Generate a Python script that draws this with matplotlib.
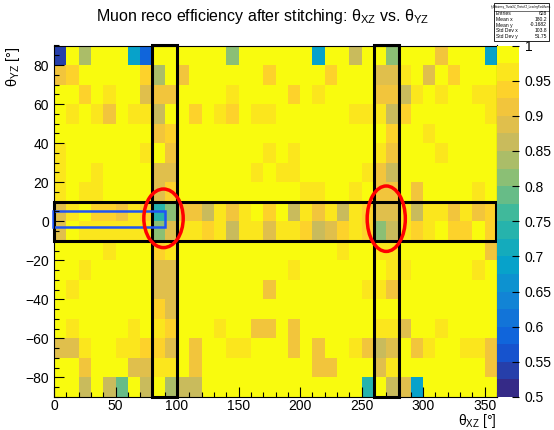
import numpy as np
import matplotlib
matplotlib.use("Agg")
import matplotlib.pyplot as plt
from matplotlib.colors import LinearSegmentedColormap, ListedColormap, BoundaryNorm
from matplotlib.patches import Rectangle, Ellipse
from matplotlib.ticker import MultipleLocator, FuncFormatter

plt.rcParams['font.family'] = ['Liberation Sans', 'DejaVu Sans']
plt.rcParams['mathtext.fontset'] = 'custom'
plt.rcParams['mathtext.rm'] = 'Liberation Sans'
plt.rcParams['mathtext.it'] = 'Liberation Sans:italic'

# 10 degree bins in both angles
theta_xz_edges = np.arange(0, 361, 10)
theta_yz_edges = np.arange(-90, 91, 10)

# efficiency per bin, first row is theta_YZ 80..90, last row is -90..-80
eff = [
    [0.535, 0.99, 0.835, 0.99, 0.99, 0.99, 0.685, 0.585, 0.99, 0.99, 0.99, 0.99, 0.99, 0.99, 0.81, 0.99, 0.99, 0.99, 0.99, 0.99, 0.99, 0.685, 0.99, 0.99, 0.86, 0.99, 0.99, 0.81, 0.99, 0.99, 0.99, 0.91, 0.99, 0.99, 0.99, 0.685],
    [0.91, 0.935, 0.99, 0.99, 0.99, 0.99, 0.99, 0.935, 0.835, 0.99, 0.91, 0.99, 0.99, 0.99, 0.99, 0.99, 0.99, 0.935, 0.99, 0.99, 0.99, 0.99, 0.935, 0.99, 0.99, 0.99, 0.885, 0.885, 0.96, 0.99, 0.885, 0.99, 0.935, 0.99, 0.99, 0.99],
    [0.99, 0.99, 0.935, 0.99, 0.96, 0.99, 0.99, 0.885, 0.91, 0.91, 0.99, 0.99, 0.99, 0.99, 0.96, 0.99, 0.99, 0.99, 0.99, 0.935, 0.99, 0.96, 0.99, 0.99, 0.99, 0.99, 0.91, 0.91, 0.86, 0.96, 0.99, 0.96, 0.99, 0.99, 0.96, 0.96],
    [0.99, 0.96, 0.99, 0.96, 0.91, 0.99, 0.96, 0.96, 0.86, 0.99, 0.99, 0.935, 0.99, 0.96, 0.935, 0.99, 0.96, 0.96, 0.99, 0.99, 0.99, 0.99, 0.99, 0.99, 0.96, 0.96, 0.96, 0.86, 0.935, 0.99, 0.99, 0.99, 0.99, 0.99, 0.99, 0.96],
    [0.99, 0.99, 0.99, 0.99, 0.99, 0.99, 0.99, 0.99, 0.91, 0.935, 0.99, 0.99, 0.99, 0.99, 0.99, 0.99, 0.99, 0.99, 0.99, 0.99, 0.99, 0.99, 0.99, 0.99, 0.99, 0.99, 0.99, 0.935, 0.99, 0.99, 0.96, 0.99, 0.99, 0.99, 0.99, 0.99],
    [0.96, 0.99, 0.99, 0.99, 0.99, 0.99, 0.99, 0.96, 0.99, 0.91, 0.99, 0.99, 0.99, 0.99, 0.99, 0.99, 0.99, 0.96, 0.99, 0.96, 0.99, 0.99, 0.99, 0.99, 0.99, 0.99, 0.96, 0.91, 0.99, 0.99, 0.99, 0.96, 0.99, 0.99, 0.99, 0.99],
    [0.96, 0.99, 0.99, 0.96, 0.99, 0.99, 0.99, 0.99, 0.885, 0.885, 0.99, 0.99, 0.99, 0.99, 0.99, 0.99, 0.96, 0.99, 0.96, 0.96, 0.99, 0.99, 0.99, 0.99, 0.99, 0.96, 0.91, 0.86, 0.99, 0.99, 0.99, 0.99, 0.99, 0.99, 0.99, 0.99],
    [0.96, 0.99, 0.96, 0.96, 0.99, 0.99, 0.99, 0.99, 0.885, 0.935, 0.99, 0.99, 0.99, 0.99, 0.99, 0.99, 0.99, 0.99, 0.99, 0.99, 0.96, 0.96, 0.99, 0.99, 0.96, 0.99, 0.91, 0.91, 0.99, 0.91, 0.99, 0.99, 0.99, 0.99, 0.96, 0.99],
    [0.885, 0.96, 0.99, 0.935, 0.935, 0.91, 0.96, 0.935, 0.74, 0.81, 0.91, 0.91, 0.86, 0.96, 0.91, 0.96, 0.99, 0.935, 0.99, 0.86, 0.96, 0.91, 0.96, 0.86, 0.96, 0.935, 0.885, 0.885, 0.96, 0.86, 0.96, 0.96, 0.91, 0.96, 0.91, 0.935],
    [0.885, 0.99, 0.96, 0.96, 0.96, 0.96, 0.96, 0.96, 0.81, 0.885, 0.96, 0.96, 0.935, 0.96, 0.86, 0.96, 0.96, 0.885, 0.96, 0.96, 0.935, 0.86, 0.885, 0.935, 0.96, 0.935, 0.82, 0.86, 0.96, 0.935, 0.96, 0.99, 0.935, 0.935, 0.99, 0.935],
    [0.99, 0.99, 0.99, 0.99, 0.96, 0.99, 0.99, 0.99, 0.935, 0.96, 0.99, 0.99, 0.99, 0.99, 0.99, 0.99, 0.99, 0.99, 0.99, 0.99, 0.99, 0.99, 0.99, 0.96, 0.99, 0.99, 0.96, 0.96, 0.99, 0.99, 0.99, 0.99, 0.99, 0.99, 0.99, 0.91],
    [0.99, 0.99, 0.96, 0.99, 0.99, 0.99, 0.99, 0.99, 0.885, 0.885, 0.99, 0.99, 0.99, 0.99, 0.99, 0.99, 0.99, 0.99, 0.99, 0.96, 0.99, 0.99, 0.99, 0.99, 0.99, 0.99, 0.99, 0.96, 0.96, 0.99, 0.99, 0.99, 0.99, 0.99, 0.96, 0.99],
    [0.99, 0.96, 0.99, 0.99, 0.99, 0.99, 0.99, 0.99, 0.885, 0.885, 0.99, 0.99, 0.99, 0.99, 0.99, 0.99, 0.99, 0.91, 0.99, 0.99, 0.99, 0.99, 0.99, 0.99, 0.99, 0.96, 0.96, 0.91, 0.99, 0.99, 0.99, 0.99, 0.99, 0.99, 0.99, 0.99],
    [0.99, 0.99, 0.99, 0.99, 0.99, 0.99, 0.99, 0.99, 0.935, 0.885, 0.99, 0.99, 0.99, 0.99, 0.99, 0.99, 0.99, 0.99, 0.99, 0.99, 0.99, 0.99, 0.99, 0.99, 0.99, 0.99, 0.99, 0.99, 0.99, 0.99, 0.99, 0.99, 0.99, 0.99, 0.99, 0.99],
    [0.99, 0.96, 0.99, 0.99, 0.99, 0.99, 0.96, 0.99, 0.96, 0.935, 0.99, 0.99, 0.99, 0.96, 0.99, 0.99, 0.91, 0.91, 0.99, 0.91, 0.99, 0.99, 0.99, 0.99, 0.99, 0.99, 0.96, 0.96, 0.885, 0.99, 0.99, 0.96, 0.99, 0.99, 0.99, 0.99],
    [0.885, 0.885, 0.96, 0.99, 0.99, 0.96, 0.96, 0.935, 0.935, 0.885, 0.99, 0.91, 0.99, 0.99, 0.96, 0.96, 0.99, 0.99, 0.99, 0.91, 0.99, 0.91, 0.99, 0.99, 0.96, 0.91, 0.86, 0.885, 0.99, 0.91, 0.96, 0.99, 0.99, 0.96, 0.96, 0.91],
    [0.99, 0.99, 0.91, 0.99, 0.99, 0.99, 0.885, 0.885, 0.96, 0.96, 0.99, 0.91, 0.99, 0.99, 0.99, 0.99, 0.99, 0.99, 0.99, 0.99, 0.99, 0.91, 0.91, 0.99, 0.99, 0.99, 0.885, 0.96, 0.99, 0.99, 0.99, 0.99, 0.99, 0.99, 0.99, 0.91],
    [0.99, 0.99, 0.86, 0.99, 0.86, 0.775, 0.99, 0.86, 0.99, 0.825, 0.86, 0.86, 0.99, 0.99, 0.99, 0.99, 0.99, 0.99, 0.99, 0.99, 0.99, 0.99, 0.99, 0.99, 0.99, 0.74, 0.99, 0.86, 0.885, 0.685, 0.99, 0.99, 0.99, 0.99, 0.99, 0.99],
]

# stats box entries
stats_title = "h_Efficiency_ThetaXZ_ThetaYZ_LeadingPosMuons"
stats_names = ["Entries", "Mean x", "Mean y", "Std Dev x", "Std Dev y"]
stats_values = ["628", "180.2", "-0.1682", "103.8", "51.75"]

# bird palette stops
bird_stops = np.linspace(0, 1, 9)
bird_r = [0.2082, 0.0592, 0.0780, 0.0232, 0.1802, 0.5301, 0.8186, 0.9956, 0.9764]
bird_g = [0.1664, 0.3599, 0.5041, 0.6419, 0.7178, 0.7492, 0.7328, 0.7862, 0.9832]
bird_b = [0.5293, 0.8684, 0.8385, 0.7914, 0.6425, 0.4662, 0.3499, 0.1968, 0.0539]

bird = LinearSegmentedColormap.from_list(
    "bird", list(zip(bird_stops, zip(bird_r, bird_g, bird_b))))
n_levels = 20
cmap = ListedColormap([bird(i / (n_levels - 1)) for i in range(n_levels)])
levels = np.linspace(0.5, 1.0, n_levels + 1)
norm = BoundaryNorm(levels, n_levels)

W, H = 554, 430
fig = plt.figure(figsize=(W / 100, H / 100), dpi=100)

left, right, top, bottom = 54, 497, 45.5, 397
ax = fig.add_axes([left / W, 1 - bottom / H, (right - left) / W, (bottom - top) / H])
cax = fig.add_axes([right / W, 1 - bottom / H, 22 / W, (bottom - top) / H])

mesh = ax.pcolormesh(theta_xz_edges, theta_yz_edges, np.flipud(np.array(eff)),
                     cmap=cmap, norm=norm)
ax.set_xlim(0, 360)
ax.set_ylim(-90, 90)

ax.xaxis.set_major_locator(MultipleLocator(50))
ax.xaxis.set_minor_locator(MultipleLocator(10))
ax.yaxis.set_major_locator(MultipleLocator(20))
ax.yaxis.set_minor_locator(MultipleLocator(5))
ax.tick_params(which='both', direction='in', top=False, right=False, labelsize=10)
ax.tick_params(which='major', length=7, width=0.8)
ax.tick_params(which='minor', length=3.5, width=0.8)
ax.tick_params(axis='x', pad=1.5)
for sp in ax.spines.values():
    sp.set_linewidth(0.8)

cb = fig.colorbar(mesh, cax=cax, ticks=np.arange(0.5, 1.0001, 0.05),
                  format=FuncFormatter(lambda v, p: f"{v:g}"))
cb.outline.set_visible(False)
cb.minorticks_off()
cax.tick_params(direction='in', length=5, width=0.8, labelsize=10, pad=4)

# selection boxes
ax.add_patch(Rectangle((80, -90), 20, 180, fill=False, ec='black', lw=2.2, clip_on=False))
ax.add_patch(Rectangle((260, -90), 20, 180, fill=False, ec='black', lw=2.2, clip_on=False))
ax.add_patch(Rectangle((0, -10), 359, 20, fill=False, ec='black', lw=2.2, clip_on=False))
ax.add_patch(Rectangle((-1, -3), 91, 8, fill=False, ec='#1f55f5', lw=1.8, clip_on=False))
ax.add_patch(Ellipse((89, 1.5), 32, 30, fill=False, ec='red', lw=2.5))
ax.add_patch(Ellipse((270, 1.3), 31, 33.5, fill=False, ec='red', lw=2.5))

# title and axis titles
fig.text(96 / W, 1 - 21 / H,
         r"Muon reco efficiency after stitching: θ$_{\mathrm{XZ}}$ vs. θ$_{\mathrm{YZ}}$",
         fontsize=11.5, ha='left', va='baseline')
fig.text(right / W, 1 - 425 / H, r"θ$_{\mathrm{XZ}}$ [°]",
         fontsize=10, ha='right', va='baseline')
fig.text(13 / W, 1 - 46 / H, r"θ$_{\mathrm{YZ}}$ [°]",
         fontsize=10.5, ha='center', va='top', rotation=90)

# stats box
bx0, bx1, by0, by1 = 494, 549, 3, 41
fig.patches.append(Rectangle((bx0 / W, 1 - by1 / H), (bx1 - bx0) / W, (by1 - by0) / H,
                             transform=fig.transFigure, fc='white', ec='black', lw=0.6))
fig.lines.append(plt.Line2D([bx0 / W, bx1 / W], [1 - 10.5 / H, 1 - 10.5 / H],
                            transform=fig.transFigure, color='black', lw=0.4))
fig.text((bx0 + bx1) / 2 / W, 1 - 7 / H, stats_title, fontsize=1.9,
         ha='center', va='center')
for i, (name, val) in enumerate(zip(stats_names, stats_values)):
    yy = 1 - (13.8 + 5.6 * i) / H
    fig.text((bx0 + 2) / W, yy, name, fontsize=3.6, ha='left', va='center')
    fig.text((bx1 - 2) / W, yy, val, fontsize=3.6, ha='right', va='center')

fig.savefig("out.png", dpi=100)
